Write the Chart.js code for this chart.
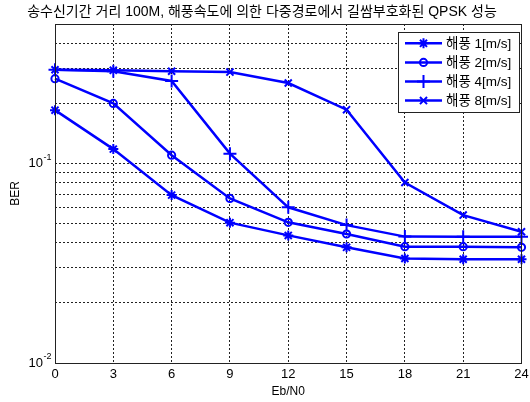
<!DOCTYPE html>
<html>
<head>
<meta charset="utf-8">
<script src="https://cdn.jsdelivr.net/npm/chart.js@4.4.1/dist/chart.umd.min.js"></script>
<style>
  html, body { margin: 0; padding: 0; background: #fff; }
  #wrap { width: 530px; height: 402px; }
</style>
</head>
<body>
<div id="wrap"><canvas id="c" width="530" height="402"></canvas></div>
<script>
// Eb/N0 sweep (dB) and measured BER for each sea-wind speed
const ebn0 = [0, 3, 6, 9, 12, 15, 18, 21, 24];
const ber1 = [0.185, 0.118, 0.0694, 0.0505, 0.0436, 0.0380, 0.0334, 0.0331, 0.0331];
const ber2 = [0.266, 0.200, 0.110, 0.0668, 0.0507, 0.0443, 0.0383, 0.0383, 0.0380];
const ber4 = [0.295, 0.290, 0.259, 0.112, 0.0603, 0.0491, 0.0430, 0.0429, 0.0429];
const ber8 = [0.295, 0.293, 0.290, 0.287, 0.253, 0.186, 0.0803, 0.0551, 0.0455];

const seriesLabels = ['해풍 1[m/s]', '해풍 2[m/s]', '해풍 4[m/s]', '해풍 8[m/s]'];
const titleText = '송수신기간 거리 100M, 해풍속도에 의한 다중경로에서 길쌈부호화된 QPSK 성능';
const xTitle = 'Eb/N0';
const yTitle = 'BER';

// log-axis grid positions and the decade labels (10^exp)
const yGridValues = [0.01, 0.02, 0.03, 0.04, 0.05, 0.06, 0.07, 0.08, 0.09, 0.1, 0.2, 0.3, 0.4, 0.5];
const yDecadeValues = [0.01, 0.1];
const yDecadeExponents = ['-2', '-1'];

const BLUE = '#0000ff';
const LATIN = '"Liberation Sans", Arial, "Noto Sans CJK KR", sans-serif';

const styles = [
  { pointStyle: 'star', radius: 5 },
  { pointStyle: 'circle', radius: 3.6 },
  { pointStyle: 'cross', radius: 6.5 },
  { pointStyle: 'crossRot', radius: 5 }
];

function makeSet(label, values, st) {
  return {
    label: label,
    data: ebn0.map((x, i) => ({ x: x, y: values[i] })),
    borderColor: BLUE,
    backgroundColor: 'rgba(0,0,0,0)',
    borderWidth: 2.5,
    pointStyle: st.pointStyle,
    pointRadius: st.radius,
    pointBorderColor: BLUE,
    pointBackgroundColor: 'rgba(0,0,0,0)',
    pointBorderWidth: 2,
    tension: 0,
    clip: false
  };
}

// axes frame, decade labels and the legend box
const decor = {
  id: 'decor',
  afterDraw(chart) {
    const ctx = chart.ctx;
    const a = chart.chartArea;
    const ys = chart.scales.y;
    ctx.save();
    ctx.strokeStyle = '#222';
    ctx.lineWidth = 1;
    ctx.setLineDash([]);
    ctx.strokeRect(Math.round(a.left) + 0.5, Math.round(a.top) + 0.5,
      Math.round(a.right - a.left) - 1, Math.round(a.bottom - a.top));

    // decade tick labels with superscript exponent
    ctx.fillStyle = '#000';
    yDecadeValues.forEach((v, i) => {
      const py = ys.getPixelForValue(v);
      ctx.font = '13px ' + LATIN;
      ctx.textAlign = 'right';
      ctx.textBaseline = 'middle';
      ctx.fillText('10', 43, py);
      ctx.font = '9px ' + LATIN;
      ctx.textAlign = 'left';
      ctx.fillText(yDecadeExponents[i], 43.5, py - 6);
    });

    // legend
    const lx = 398.5, ly = 32.5, lw = 121, lh = 80;
    ctx.fillStyle = '#fff';
    ctx.fillRect(lx, ly, lw, lh);
    ctx.strokeStyle = '#222';
    ctx.strokeRect(lx, ly, lw, lh);
    chart.data.datasets.forEach((ds, i) => {
      const ry = 43.3 + i * 19.1;
      ctx.strokeStyle = BLUE;
      ctx.lineWidth = 2.5;
      ctx.beginPath();
      ctx.moveTo(405, ry);
      ctx.lineTo(442, ry);
      ctx.stroke();
      ctx.fillStyle = 'rgba(0,0,0,0)';
      ctx.strokeStyle = BLUE;
      ctx.lineWidth = 2;
      Chart.helpers.drawPoint(ctx, {
        pointStyle: ds.pointStyle, radius: ds.pointRadius, rotation: 0, borderWidth: 2
      }, 423.5, ry);
      ctx.fillStyle = '#000';
      ctx.font = '13.5px ' + LATIN;
      ctx.textAlign = 'left';
      ctx.textBaseline = 'middle';
      ctx.fillText(ds.label, 446, ry + 0.5);
    });
    ctx.restore();
  }
};

const gridStyle = {
  color: '#222',
  lineWidth: 1,
  drawTicks: false,
  tickLength: 0
};

new Chart(document.getElementById('c'), {
  type: 'line',
  data: {
    datasets: [
      makeSet(seriesLabels[0], ber1, styles[0]),
      makeSet(seriesLabels[1], ber2, styles[1]),
      makeSet(seriesLabels[2], ber4, styles[2]),
      makeSet(seriesLabels[3], ber8, styles[3])
    ]
  },
  options: {
    responsive: false,
    animation: false,
    events: [],
    layout: { padding: { top: 0, right: 6, bottom: 0, left: 0 } },
    plugins: {
      legend: { display: false },
      tooltip: { enabled: false },
      title: {
        display: true,
        text: titleText,
        color: '#000',
        font: { family: LATIN, size: 14, weight: 'normal' },
        padding: { top: 3.5, bottom: 3.7 }
      }
    },
    scales: {
      x: {
        type: 'linear',
        min: 0,
        max: 24,
        ticks: {
          stepSize: 3,
          color: '#000',
          font: { family: LATIN, size: 13 },
          padding: 4,
          maxRotation: 0
        },
        grid: gridStyle,
        border: { display: false, dash: [2, 2] },
        title: {
          display: true,
          text: xTitle,
          color: '#000',
          font: { family: LATIN, size: 12 },
          padding: { top: 0, bottom: 3 }
        },
        afterFit(s) { s.height = 39; s.paddingLeft = 0; s.paddingRight = 0; }
      },
      y: {
        type: 'logarithmic',
        min: 0.01,
        max: 0.5,
        afterBuildTicks(s) { s.ticks = yGridValues.map(v => ({ value: v })); },
        ticks: { display: false },
        grid: gridStyle,
        border: { display: false, dash: [2, 2] },
        title: {
          display: true,
          text: yTitle,
          color: '#000',
          font: { family: LATIN, size: 12 },
          padding: { top: 8, bottom: 0 }
        },
        afterFit(s) { s.width = 55; s.paddingTop = 0; s.paddingBottom = 0; }
      }
    }
  },
  plugins: [decor]
});
</script>
</body>
</html>
